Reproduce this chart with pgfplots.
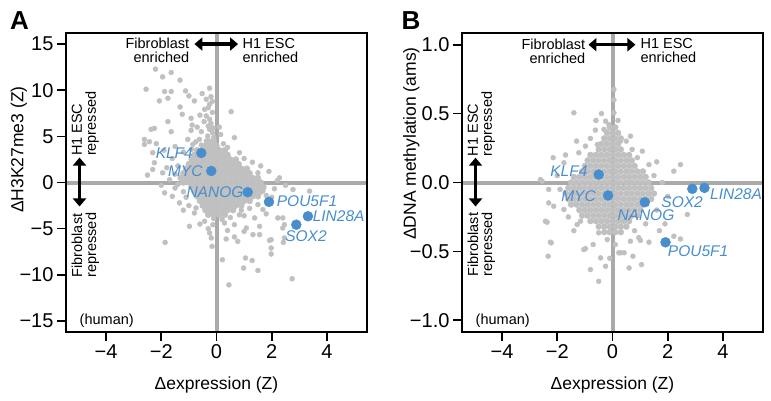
\documentclass[border=0pt]{standalone}
\usepackage{fontspec}
\setmainfont{Liberation Sans}
\usepackage{pgfplots}
\pgfplotsset{compat=1.18}
\usetikzlibrary{arrows.meta}
\definecolor{ptgrey}{RGB}{192,192,192}
\definecolor{refgrey}{RGB}{170,170,170}
\definecolor{geneblue}{RGB}{72,142,206}
\newcommand{\fs}[1]{\fontsize{#1}{14}\selectfont}
\tikzset{dblarrow/.style={line width=3.4pt, {Triangle[length=8pt,width=13pt]}-{Triangle[length=8pt,width=13pt]}},
gene/.style={font=\fs{15.5}\itshape, text=geneblue, inner sep=0pt},
note/.style={font=\fs{14.5}, inner sep=0pt}}
\pgfplotsset{panel/.style={
  scale only axis, width=301pt, height=299pt,
  xmin=-5.45, xmax=5.45,
  xtick={-4,-2,0,2,4}, xticklabels={−4,−2,0,2,4},
  tick align=outside, tick pos=left, major tick length=9pt,
  every tick/.style={black, line width=1.6pt},
  axis line style={line width=1.8pt},
  tick label style={font=\fs{20}},
  label style={font=\fs{17.5}},
  xlabel={Δexpression (Z)},
  xlabel style={at={(axis description cs:0.5,-0.176)}, anchor=center},
  clip=false, axis on top,
},
greypts/.style={only marks, mark=*, mark size=2.5pt, color=ptgrey},
corepts/.style={only marks, mark=*, mark size=3pt, color=ptgrey},
genepts/.style={only marks, mark=*, mark size=5pt, color=geneblue}}
\begin{document}
\begin{tikzpicture}
\path[use as bounding box] (-66pt,-68pt) rectangle (705pt,332pt);
\node[font=\bfseries\fs{26}] at (-46.5pt,311pt) {A};
\node[font=\bfseries\fs{26}] at (345pt,311pt) {B};

% ---- panel A: H3K27me3
\begin{axis}[panel, at={(0,0)},
  ymin=-16.2, ymax=16.2,
  ytick={-15,-10,-5,0,5,10,15}, yticklabels={−15,−10,−5,0,5,10,15},
  ylabel={ΔH3K27me3 (Z)},
  ylabel style={at={(axis description cs:-0.157,0.61)}, anchor=center},
]
% dense core
\addplot[corepts] coordinates {
(-0.3,4.5)(-0.1,4.5)
(-0.4,4)(-0.2,4)(0,4)
(-0.7,3.5)(-0.5,3.5)(-0.3,3.5)(-0.1,3.5)(0.1,3.5)(0.3,3.5)
(-0.8,3)(-0.6,3)(-0.4,3)(-0.2,3)(0,3)(0.2,3)(0.4,3)
(-0.9,2.5)(-0.7,2.5)(-0.5,2.5)(-0.3,2.5)(-0.1,2.5)(0.1,2.5)(0.3,2.5)(0.5,2.5)(0.7,2.5)
(-1,2)(-0.8,2)(-0.6,2)(-0.4,2)(-0.2,2)(0,2)(0.2,2)(0.4,2)(0.6,2)(0.8,2)
(-1.1,1.5)(-0.9,1.5)(-0.7,1.5)(-0.5,1.5)(-0.3,1.5)(-0.1,1.5)(0.1,1.5)(0.3,1.5)(0.5,1.5)(0.7,1.5)(0.9,1.5)(1.1,1.5)
(-1.2,1)(-1,1)(-0.8,1)(-0.6,1)(-0.4,1)(-0.2,1)(0,1)(0.2,1)(0.4,1)(0.6,1)(0.8,1)(1,1)(1.2,1)
(-1.3,0.5)(-1.1,0.5)(-0.9,0.5)(-0.7,0.5)(-0.5,0.5)(-0.3,0.5)(-0.1,0.5)(0.1,0.5)(0.3,0.5)(0.5,0.5)(0.7,0.5)(0.9,0.5)(1.1,0.5)(1.3,0.5)(1.5,0.5)
(-1.2,0)(-1,0)(-0.8,0)(-0.6,0)(-0.4,0)(-0.2,0)(0,0)(0.2,0)(0.4,0)(0.6,0)(0.8,0)(1,0)(1.2,0)(1.4,0)(1.6,0)
(-0.9,-0.5)(-0.7,-0.5)(-0.5,-0.5)(-0.3,-0.5)(-0.1,-0.5)(0.1,-0.5)(0.3,-0.5)(0.5,-0.5)(0.7,-0.5)(0.9,-0.5)(1.1,-0.5)(1.3,-0.5)(1.5,-0.5)(1.7,-0.5)
(-0.8,-1)(-0.6,-1)(-0.4,-1)(-0.2,-1)(0,-1)(0.2,-1)(0.4,-1)(0.6,-1)(0.8,-1)(1,-1)(1.2,-1)(1.4,-1)(1.6,-1)
(-0.7,-1.5)(-0.5,-1.5)(-0.3,-1.5)(-0.1,-1.5)(0.1,-1.5)(0.3,-1.5)(0.5,-1.5)(0.7,-1.5)(0.9,-1.5)(1.1,-1.5)(1.3,-1.5)(1.5,-1.5)
(-0.6,-2)(-0.4,-2)(-0.2,-2)(0,-2)(0.2,-2)(0.4,-2)(0.6,-2)(0.8,-2)(1,-2)(1.2,-2)
(-0.5,-2.5)(-0.3,-2.5)(-0.1,-2.5)(0.1,-2.5)(0.3,-2.5)(0.5,-2.5)(0.7,-2.5)(0.9,-2.5)
(-0.4,-3)(-0.2,-3)(0,-3)(0.2,-3)(0.4,-3)(0.6,-3)
(-0.3,-3.5)(-0.1,-3.5)(0.1,-3.5)(0.3,-3.5)
};
% scattered genes
\addplot[greypts] coordinates {
(-2.21,12.28)(-1.95,11.45)(-1.64,11.92)(-1.32,11.09)(-2.55,10.11)(-1.88,9.86)(-1.64,9.86)(-1.12,9.92)
(-2.07,8.84)(-1.76,9.13)(-1.0,9.38)(-0.52,9.64)(-0.25,10.22)(-0.80,8.84)(-0.37,9.02)(-1.32,8.18)
(-0.25,8.48)(-0.43,7.93)(-1.24,7.39)(-0.92,6.96)(-0.37,7.21)(-0.25,6.85)(-1.76,6.60)(-0.88,6.23)
(0.53,7.68)(-2.37,5.76)(-2.25,5.87)(-1.64,5.51)(-0.92,5.65)(-0.55,5.51)(-0.25,5.76)(-2.61,4.67)
(-2.43,4.42)(-2.18,4.21)(-1.04,4.67)(-0.62,4.67)(-0.32,5.03)(0.65,4.86)(-2.61,4.13)(-0.86,4.13)
(-0.55,4.05)(-0.37,4.49)
(-0.2,9.3)(-0.15,8.8)(-0.3,8.1)(-0.15,7.6)(-0.2,6.4)(-0.12,5.9)(-0.3,6.1)(-0.15,5.4)(-0.45,6.6)
(-0.6,7.3)(-0.7,6.0)(-0.1,4.9)(0.15,5.2)(0.25,4.2)(0.1,6.0)(0.4,3.8)(-0.9,3.6)(-1.2,3.3)(-1.5,3.9)
(-1.9,3.5)(-2.31,3.23)(-0.75,4.4)
(-2.25,2.14)(-2.31,1.41)(-1.95,1.05)(-1.88,-1.12)(-1.34,-2.21)(-0.74,-2.75)(-1.6,2.6)(-1.4,1.8)
(-1.7,0.3)(-2.0,-0.3)(-1.5,-0.6)(-1.6,-1.5)(-1.1,-1.6)(-1.0,-2.5)(-0.8,-3.3)(-1.2,-3.0)(-2.5,0.8)
(-1.8,1.6)(-1.5,0.9)(-1.4,-0.2)(-1.2,-1.0)
(0.83,3.23)(1.0,2.6)(1.3,2.2)(1.6,1.8)(1.9,1.2)(1.5,1.05)(2.28,0.51)(2.2,0.2)(2.10,-0.68)(1.68,-0.9)
(2.5,-0.3)(2.77,-0.76)(3.37,-0.94)(2.0,-1.6)(1.8,-1.4)(1.5,-2.39)(1.68,-2.93)(1.2,-2.8)(0.9,-3.0)
(0.83,-3.5)(1.0,-3.6)(1.38,-3.84)(1.8,-3.4)(2.22,-3.84)(2.40,-3.84)(2.46,-4.57)(2.40,-4.93)(0.5,-3.8)
(0.2,-4.0)(-0.1,-3.9)
(-0.98,-4.75)(-0.43,-4.2)(-0.13,-4.57)(0.29,-4.38)(0.65,-4.57)(1.08,-4.93)(1.56,-4.75)(1.56,-5.65)
(1.32,-5.65)(-0.25,-5.47)(-0.19,-6.01)(0.35,-6.12)(0.65,-5.9)(1.92,-6.27)(1.98,-7.1)(1.98,-7.75)
(2.46,-6.01)(-0.16,-6.92)(0.21,-8.37)(1.05,-8.18)(1.29,-8.45)(0.98,-9.27)(1.5,-9.53)(0.45,-11.09)
(2.74,-10.43)(-1.86,-6.49)(2.42,-6.49)(1.98,-6.2)(0.77,-6.38)(1.0,-5.3)(0.4,-5.2)(-0.6,-4.5)(-0.3,-5.0)
};
\addplot[refgrey, line width=4pt] coordinates {(0,-16.2)(0,16.2)};
\addplot[refgrey, line width=4pt] coordinates {(-5.45,0)(5.45,0)};
\addplot[genepts] coordinates {(-0.55,3.2)(-0.19,1.25)(1.13,-1.05)(1.9,-2.1)(3.31,-3.66)(2.89,-4.57)};
\coordinate (aKLF) at (axis cs:-0.85,3.15);
\coordinate (aMYC) at (axis cs:-0.5,1.2);
\coordinate (aNAN) at (axis cs:0.98,-1.05);
\coordinate (aPOU) at (axis cs:2.18,-2.05);
\coordinate (aLIN) at (axis cs:3.48,-3.7);
\coordinate (aSOX) at (axis cs:3.24,-5.85);
\coordinate (aT1) at (axis cs:-0.8,15);
\coordinate (aT2) at (axis cs:0.78,15);
\coordinate (aFE) at (axis cs:-0.98,14.3);
\coordinate (aHE) at (axis cs:0.94,14.3);
\coordinate (aL1) at (axis cs:-4.96,2.7);
\coordinate (aL2) at (axis cs:-4.96,-2.6);
\coordinate (aHR) at (axis cs:-4.75,2.85);
\coordinate (aFR) at (axis cs:-4.75,-10.3);
\coordinate (aHU) at (axis cs:-4.96,-15.0);
\end{axis}
\node[gene, anchor=east] at (aKLF) {KLF4};
\node[gene, anchor=east] at (aMYC) {MYC};
\node[gene, anchor=east] at (aNAN) {NANOG};
\node[gene, anchor=west] at (aPOU) {POU5F1};
\node[gene, anchor=west] at (aLIN) {LIN28A};
\node[gene] at (aSOX) {SOX2};
\draw[dblarrow] (aT1) -- (aT2);
\node[note, anchor=east, align=right] at (aFE) {Fibroblast\\enriched};
\node[note, anchor=west, align=left] at (aHE) {H1 ESC\\enriched};
\draw[dblarrow] (aL1) -- (aL2);
\node[note, rotate=90, anchor=west, align=left] at (aHR) {H1 ESC\\repressed};
\node[note, rotate=90, anchor=west, align=left] at (aFR) {Fibroblast\\repressed};
\node[note, anchor=west] at (aHU) {(human)};

% ---- panel B: DNA methylation
\begin{axis}[panel, at={(396pt,0)},
  ymin=-1.085, ymax=1.085,
  ytick={-1,-0.5,0,0.5,1}, yticklabels={−1.0,−0.5,0.0,0.5,1.0},
  ylabel={ΔDNA methylation (ams)},
  ylabel style={at={(axis description cs:-0.168,0.63)}, anchor=center},
]
\addplot[corepts] coordinates {
(-0.1,0.4)(0.1,0.4)
(-0.2,0.36)(0,0.36)(0.2,0.36)
(-0.3,0.32)(-0.1,0.32)(0.1,0.32)(0.3,0.32)
(-0.4,0.28)(-0.2,0.28)(0,0.28)(0.2,0.28)
(-0.5,0.24)(-0.3,0.24)(-0.1,0.24)(0.1,0.24)(0.3,0.24)
(-0.8,0.2)(-0.6,0.2)(-0.4,0.2)(-0.2,0.2)(0,0.2)(0.2,0.2)(0.4,0.2)(0.6,0.2)
(-0.9,0.16)(-0.7,0.16)(-0.5,0.16)(-0.3,0.16)(-0.1,0.16)(0.1,0.16)(0.3,0.16)(0.5,0.16)(0.7,0.16)
(-1,0.12)(-0.8,0.12)(-0.6,0.12)(-0.4,0.12)(-0.2,0.12)(0,0.12)(0.2,0.12)(0.4,0.12)(0.6,0.12)(0.8,0.12)
(-1.1,0.08)(-0.9,0.08)(-0.7,0.08)(-0.5,0.08)(-0.3,0.08)(-0.1,0.08)(0.1,0.08)(0.3,0.08)(0.5,0.08)(0.7,0.08)(0.9,0.08)(1.1,0.08)
(-1.4,0.04)(-1.2,0.04)(-1,0.04)(-0.8,0.04)(-0.6,0.04)(-0.4,0.04)(-0.2,0.04)(0,0.04)(0.2,0.04)(0.4,0.04)(0.6,0.04)(0.8,0.04)(1,0.04)(1.2,0.04)
(-1.5,0)(-1.3,0)(-1.1,0)(-0.9,0)(-0.7,0)(-0.5,0)(-0.3,0)(-0.1,0)(0.1,0)(0.3,0)(0.5,0)(0.7,0)(0.9,0)(1.1,0)(1.3,0)
(-1.6,-0.04)(-1.4,-0.04)(-1.2,-0.04)(-1,-0.04)(-0.8,-0.04)(-0.6,-0.04)(-0.4,-0.04)(-0.2,-0.04)(0,-0.04)(0.2,-0.04)(0.4,-0.04)(0.6,-0.04)(0.8,-0.04)(1,-0.04)(1.2,-0.04)(1.4,-0.04)
(-1.7,-0.08)(-1.5,-0.08)(-1.3,-0.08)(-1.1,-0.08)(-0.9,-0.08)(-0.7,-0.08)(-0.5,-0.08)(-0.3,-0.08)(-0.1,-0.08)(0.1,-0.08)(0.3,-0.08)(0.5,-0.08)(0.7,-0.08)(0.9,-0.08)(1.1,-0.08)(1.3,-0.08)(1.5,-0.08)
(-1.6,-0.12)(-1.4,-0.12)(-1.2,-0.12)(-1,-0.12)(-0.8,-0.12)(-0.6,-0.12)(-0.4,-0.12)(-0.2,-0.12)(0,-0.12)(0.2,-0.12)(0.4,-0.12)(0.6,-0.12)(0.8,-0.12)(1,-0.12)(1.2,-0.12)(1.4,-0.12)
(-1.5,-0.16)(-1.3,-0.16)(-1.1,-0.16)(-0.9,-0.16)(-0.7,-0.16)(-0.5,-0.16)(-0.3,-0.16)(-0.1,-0.16)(0.1,-0.16)(0.3,-0.16)(0.5,-0.16)(0.7,-0.16)(0.9,-0.16)(1.1,-0.16)
(-1.2,-0.2)(-1,-0.2)(-0.8,-0.2)(-0.6,-0.2)(-0.4,-0.2)(-0.2,-0.2)(0,-0.2)(0.2,-0.2)(0.4,-0.2)(0.6,-0.2)(0.8,-0.2)(1,-0.2)
(-1.1,-0.24)(-0.9,-0.24)(-0.7,-0.24)(-0.5,-0.24)(-0.3,-0.24)(-0.1,-0.24)(0.1,-0.24)(0.3,-0.24)(0.5,-0.24)(0.7,-0.24)(0.9,-0.24)
(-0.8,-0.28)(-0.6,-0.28)(-0.4,-0.28)(-0.2,-0.28)(0,-0.28)(0.2,-0.28)(0.4,-0.28)(0.6,-0.28)
(-0.5,-0.32)(-0.3,-0.32)(-0.1,-0.32)(0.1,-0.32)(0.3,-0.32)(0.5,-0.32)
(-0.3,-0.36)(-0.1,-0.36)(0.1,-0.36)(0.3,-0.36)
};
\addplot[greypts] coordinates {
(-1.40,0.506)(0.05,0.506)(-0.62,0.38)(-0.31,0.385)(-0.13,0.42)(-0.98,0.264)(-1.22,0.216)(-2.15,0.18)
(-1.76,0.143)(-0.55,0.276)(0.29,0.30)(0.71,0.24)(1.08,0.227)(1.32,0.13)(-2.61,0.022)(-2.31,-0.05)
(-0.25,0.445)(0.05,0.675)(0.05,0.60)(0.65,0.336)(2.46,0.13)(2.22,0.082)(-2.55,0.01)(-2.31,-0.148)
(-2.37,-0.288)(-2.25,-0.433)(-2.33,-0.535)(-0.98,-0.48)(-0.80,-0.632)(-0.50,-0.717)(-0.25,-0.608)
(0.23,-0.51)(0.42,-0.51)(0.74,-0.535)(1.05,-0.596)(1.01,-0.42)(1.32,-0.433)(2.71,-0.232)(2.46,-0.41)
(2.22,-0.39)(-1.28,-0.305)(-2.43,-0.281)(-2.22,-0.438)(-1.04,-0.487)(-0.43,-0.547)(-2.13,-0.172)
(-1.76,-0.196)(-1.16,-0.281)(-0.5,-0.365)(-0.19,-0.414)(0.29,-0.51)(0.65,-0.426)(0.95,-0.40)
(1.8,0.0)(2.0,-0.1)(1.6,-0.2)(1.9,-0.3)(1.6,0.15)(-0.7,-0.45)(-0.4,0.5)(-0.6,0.45)(0.2,0.45)
(-1.9,-0.05)(-2.0,0.05)(-1.7,0.2)(-1.3,0.3)(-0.8,0.32)(0.5,0.3)(0.9,0.18)(1.5,0.05)(1.7,-0.35)
(0.1,-0.45)(-0.1,-0.55)(0.6,-0.62)(-1.4,-0.35)(-1.6,-0.25)(1.2,-0.3)(0.8,-0.35)
};
\addplot[refgrey, line width=4pt] coordinates {(0,-1.085)(0,1.085)};
\addplot[refgrey, line width=4pt] coordinates {(-5.45,0)(5.45,0)};
\addplot[genepts] coordinates {(-0.5,0.058)(-0.16,-0.094)(1.17,-0.143)(2.89,-0.046)(3.33,-0.039)(1.92,-0.434)};
\coordinate (bKLF) at (axis cs:-0.9,0.08);
\coordinate (bMYC) at (axis cs:-0.6,-0.1);
\coordinate (bNAN) at (axis cs:1.21,-0.24);
\coordinate (bSOX) at (axis cs:2.52,-0.145);
\coordinate (bLIN) at (axis cs:3.53,-0.087);
\coordinate (bPOU) at (axis cs:2.0,-0.5);
\coordinate (bT1) at (axis cs:-0.87,1.0);
\coordinate (bT2) at (axis cs:0.83,1.0);
\coordinate (bFE) at (axis cs:-0.98,0.955);
\coordinate (bHE) at (axis cs:1.01,0.955);
\coordinate (bL1) at (axis cs:-4.96,0.18);
\coordinate (bL2) at (axis cs:-4.96,-0.174);
\coordinate (bHR) at (axis cs:-4.75,0.19);
\coordinate (bFR) at (axis cs:-4.75,-0.683);
\coordinate (bHU) at (axis cs:-4.96,-1.0);
\end{axis}
\node[gene, anchor=east] at (bKLF) {KLF4};
\node[gene, anchor=east] at (bMYC) {MYC};
\node[gene] at (bNAN) {NANOG};
\node[gene] at (bSOX) {SOX2};
\node[gene, anchor=west] at (bLIN) {LIN28A};
\node[gene, anchor=west] at (bPOU) {POU5F1};
\draw[dblarrow] (bT1) -- (bT2);
\node[note, anchor=east, align=right] at (bFE) {Fibroblast\\enriched};
\node[note, anchor=west, align=left] at (bHE) {H1 ESC\\enriched};
\draw[dblarrow] (bL1) -- (bL2);
\node[note, rotate=90, anchor=west, align=left] at (bHR) {H1 ESC\\repressed};
\node[note, rotate=90, anchor=west, align=left] at (bFR) {Fibroblast\\repressed};
\node[note, anchor=west] at (bHU) {(human)};
\end{tikzpicture}
\end{document}
